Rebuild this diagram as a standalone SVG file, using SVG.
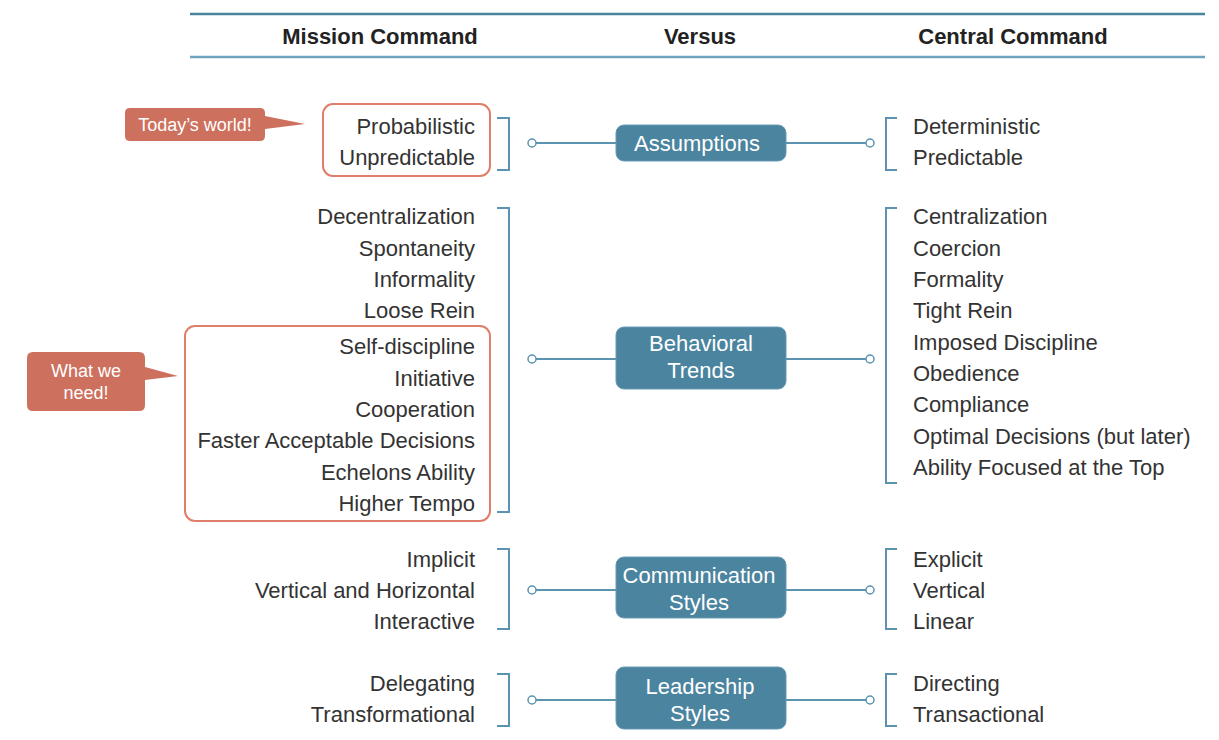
<svg xmlns="http://www.w3.org/2000/svg" width="1219" height="740" viewBox="0 0 1219 740">
<style>
.hdr{font-family:"Liberation Sans",Arial,sans-serif;font-weight:bold;font-size:22px;fill:#222;text-anchor:middle}
.it{font-family:"Liberation Sans",Arial,sans-serif;font-size:22px;fill:#333}
.l{text-anchor:end}
.nd{fill:#4b849f;stroke:#6a9bb3;stroke-width:1}
.nt{font-family:"Liberation Sans",Arial,sans-serif;font-size:22px;fill:#fff;text-anchor:middle}
.br{fill:none;stroke:#5b93b0;stroke-width:2}
.ln{stroke:#5b93b0;stroke-width:2;fill:none}
.dot{fill:#fff;stroke:#5b93b0;stroke-width:1.5}
.hl{fill:none;stroke:#e07e6c;stroke-width:2}
.co{fill:#cd705d}
.ct{font-family:"Liberation Sans",Arial,sans-serif;font-size:18px;fill:#fff;text-anchor:middle}
</style>
<rect width="1219" height="740" fill="#fff"/>
<g id="header">
<line x1="190" y1="14" x2="1205" y2="14" stroke="#4b849f" stroke-width="2.5"/>
<line x1="190" y1="57" x2="1205" y2="57" stroke="#6fa3bd" stroke-width="2.5"/>
<text class="hdr" x="380" y="44">Mission Command</text>
<text class="hdr" x="700" y="44">Versus</text>
<text class="hdr" x="1013" y="44">Central Command</text>
</g>
<g id="connectors">
<path class="br" d="M497,118 H509 V170 H497"/>
<path class="br" d="M897,118 H886 V170 H897"/>
<line class="ln" x1="532" y1="143" x2="616" y2="143"/>
<line class="ln" x1="786" y1="143" x2="870" y2="143"/>
<circle class="dot" cx="532" cy="143" r="4"/>
<circle class="dot" cx="870" cy="143" r="4"/>
<path class="br" d="M497,208 H509 V512 H497"/>
<path class="br" d="M897,208 H886 V483 H897"/>
<line class="ln" x1="532" y1="359" x2="616" y2="359"/>
<line class="ln" x1="786" y1="359" x2="870" y2="359"/>
<circle class="dot" cx="532" cy="359" r="4"/>
<circle class="dot" cx="870" cy="359" r="4"/>
<path class="br" d="M497,549 H509 V629 H497"/>
<path class="br" d="M897,549 H886 V629 H897"/>
<line class="ln" x1="532" y1="590" x2="616" y2="590"/>
<line class="ln" x1="786" y1="590" x2="870" y2="590"/>
<circle class="dot" cx="532" cy="590" r="4"/>
<circle class="dot" cx="870" cy="590" r="4"/>
<path class="br" d="M497,674 H509 V726 H497"/>
<path class="br" d="M897,674 H886 V726 H897"/>
<line class="ln" x1="532" y1="700" x2="616" y2="700"/>
<line class="ln" x1="786" y1="700" x2="870" y2="700"/>
<circle class="dot" cx="532" cy="700" r="4"/>
<circle class="dot" cx="870" cy="700" r="4"/>
</g>
<g id="assumptions">
<rect class="nd" x="616" y="125" width="170" height="36" rx="8"/>
<text class="nt" x="697" y="151">Assumptions</text>
</g>
<g id="behavioral">
<rect class="nd" x="616" y="327" width="170" height="62" rx="8"/>
<text class="nt" x="701" y="351">Behavioral</text>
<text class="nt" x="701" y="378">Trends</text>
</g>
<g id="communication">
<rect class="nd" x="616" y="557" width="170" height="61" rx="8"/>
<text class="nt" x="699" y="583">Communication</text>
<text class="nt" x="699" y="610">Styles</text>
</g>
<g id="leadership">
<rect class="nd" x="616" y="667" width="170" height="62" rx="8"/>
<text class="nt" x="700" y="694">Leadership</text>
<text class="nt" x="700" y="721">Styles</text>
</g>
<g id="mission-assumptions">
<rect class="hl" x="323" y="104" width="167" height="72" rx="10"/>
<text class="it l" x="475" y="134">Probabilistic</text>
<text class="it l" x="475" y="165">Unpredictable</text>
</g>
<g id="central-assumptions">
<text class="it" x="913" y="134">Deterministic</text>
<text class="it" x="913" y="165">Predictable</text>
</g>
<g id="mission-behavioral">
<text class="it l" x="475" y="224">Decentralization</text>
<text class="it l" x="475" y="256">Spontaneity</text>
<text class="it l" x="475" y="287">Informality</text>
<text class="it l" x="475" y="318">Loose Rein</text>
<rect class="hl" x="185" y="326" width="305" height="195" rx="10"/>
<text class="it l" x="475" y="354">Self-discipline</text>
<text class="it l" x="475" y="386">Initiative</text>
<text class="it l" x="475" y="417">Cooperation</text>
<text class="it l" x="475" y="448">Faster Acceptable Decisions</text>
<text class="it l" x="475" y="480">Echelons Ability</text>
<text class="it l" x="475" y="511">Higher Tempo</text>
</g>
<g id="central-behavioral">
<text class="it" x="913" y="224">Centralization</text>
<text class="it" x="913" y="256">Coercion</text>
<text class="it" x="913" y="287">Formality</text>
<text class="it" x="913" y="318">Tight Rein</text>
<text class="it" x="913" y="350">Imposed Discipline</text>
<text class="it" x="913" y="381">Obedience</text>
<text class="it" x="913" y="412">Compliance</text>
<text class="it" x="913" y="444">Optimal Decisions (but later)</text>
<text class="it" x="913" y="475">Ability Focused at the Top</text>
</g>
<g id="mission-communication">
<text class="it l" x="475" y="567">Implicit</text>
<text class="it l" x="475" y="598">Vertical and Horizontal</text>
<text class="it l" x="475" y="629">Interactive</text>
</g>
<g id="central-communication">
<text class="it" x="913" y="567">Explicit</text>
<text class="it" x="913" y="598">Vertical</text>
<text class="it" x="913" y="629">Linear</text>
</g>
<g id="mission-leadership">
<text class="it l" x="475" y="691">Delegating</text>
<text class="it l" x="475" y="722">Transformational</text>
</g>
<g id="central-leadership">
<text class="it" x="913" y="691">Directing</text>
<text class="it" x="913" y="722">Transactional</text>
</g>
<g id="callout-today">
<path class="co" d="M130,108 H260 Q265,108 265,113 V116 L305,124 L265,129 V136 Q265,141 260,141 H130 Q125,141 125,136 V113 Q125,108 130,108 Z"/>
<text class="ct" x="195" y="131">Today’s world!</text>
</g>
<g id="callout-need">
<path class="co" d="M33,352 H139 Q145,352 145,358 V367 L178,376 L145,380 V405 Q145,411 139,411 H33 Q27,411 27,405 V358 Q27,352 33,352 Z"/>
<text class="ct" x="86" y="377">What we</text>
<text class="ct" x="86" y="399">need!</text>
</g>
</svg>
